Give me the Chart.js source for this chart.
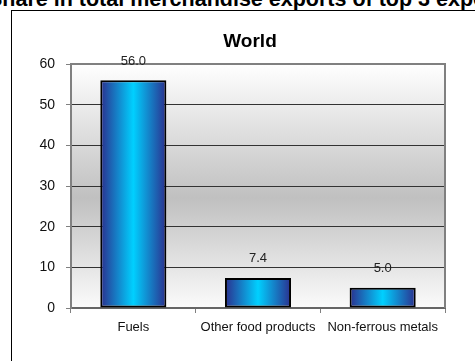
<!DOCTYPE html>
<html>
<head>
<meta charset="utf-8">
<script src="https://cdn.jsdelivr.net/npm/chart.js@4/dist/chart.umd.min.js"></script>
<style>
  html, body { margin: 0; padding: 0; background: #fff; overflow: hidden; }
  #page { position: relative; width: 475px; height: 361px; overflow: hidden; }
  #heading { position: absolute; left: -12px; top: -11px; white-space: nowrap;
    font: bold 21.5px Arial, "Liberation Sans", sans-serif; line-height: 21px; color: #000; }
  #box { position: absolute; left: 11px; top: 10px; width: 480px; height: 400px;
    border-left: 1px solid #000; border-top: 1px solid #000; }
  #c { position: absolute; left: 0; top: 0; }
</style>
</head>
<body>
<div id="page">
  <div id="heading">Share in total merchandise exports of top 3 exports</div>
  <div id="box"></div>
  <canvas id="c" width="475" height="361"></canvas>
</div>
<script>
const chartTitle = "World";
const categories = ["Fuels", "Other food products", "Non-ferrous metals"];
const shares = [56.0, 7.4, 5.0];
const yTicks = [0, 10, 20, 30, 40, 50, 60];

const FONT = 'Arial, "Liberation Sans", sans-serif';

const plotBg = {
  id: 'plotBg',
  beforeDraw(chart) {
    const {ctx, chartArea: a} = chart;
    const g = ctx.createLinearGradient(0, a.top, 0, a.bottom);
    g.addColorStop(0, '#ffffff');
    g.addColorStop(0.55, '#c0c0c0');
    g.addColorStop(1, '#fbfbfb');
    ctx.save();
    ctx.fillStyle = g;
    ctx.fillRect(a.left, a.top, a.right - a.left, a.bottom - a.top);
    ctx.font = 'bold 19px ' + FONT;
    ctx.fillStyle = '#000';
    ctx.textAlign = 'center';
    ctx.textBaseline = 'middle';
    ctx.fillText(chartTitle, 250, 42);
    ctx.restore();
  },
  beforeDatasetsDraw(chart) {
    const {ctx} = chart;
    const meta = chart.getDatasetMeta(0);
    meta.data.forEach(el => {
      const x0 = el.x - el.width / 2, x1 = el.x + el.width / 2;
      const g = ctx.createLinearGradient(x0, 0, x1, 0);
      g.addColorStop(0, '#2b2f8e');
      g.addColorStop(0.5, '#00d0ff');
      g.addColorStop(1, '#2b2f8e');
      el.options = Object.assign({}, el.options, { backgroundColor: g });
    });
  },
  afterDraw(chart) {
    const {ctx, chartArea: a} = chart;
    ctx.save();
    ctx.strokeStyle = '#808080';
    ctx.lineWidth = 2;
    ctx.beginPath();
    ctx.moveTo(a.left, a.top);
    ctx.lineTo(a.right, a.top);
    ctx.lineTo(a.right, a.bottom);
    ctx.stroke();
    const meta = chart.getDatasetMeta(0);
    ctx.font = '13px ' + FONT;
    ctx.fillStyle = '#222';
    ctx.textAlign = 'center';
    ctx.textBaseline = 'middle';
    meta.data.forEach((el, i) => {
      ctx.fillText(shares[i].toFixed(1), el.x, el.y - 19);
    });
    ctx.restore();
  }
};

new Chart(document.getElementById('c'), {
  type: 'bar',
  data: {
    labels: categories,
    datasets: [{
      data: shares,
      backgroundColor: () => '#00ccff',
      borderColor: '#000',
      borderWidth: 2,
      borderSkipped: false,
      categoryPercentage: 1,
      barPercentage: 0.53
    }]
  },
  options: {
    responsive: false,
    animation: false,
    devicePixelRatio: 1,
    layout: { padding: { left: 0, right: 30, top: 64, bottom: 0 } },
    plugins: {
      legend: { display: false },
      tooltip: { enabled: false },
      title: { display: false }
    },
    scales: {
      x: {
        grid: { display: true, offset: true, drawOnChartArea: false, tickLength: 5, color: '#808080' },
        border: { display: true, color: '#666', width: 2 },
        ticks: { color: '#111', font: { family: FONT, size: 13 }, padding: 7, maxRotation: 0, autoSkip: false },
        afterFit(s) { s.height = 53; }
      },
      y: {
        min: yTicks[0], max: yTicks[yTicks.length - 1],
        grid: {
          color: ctx => (ctx.tick && (ctx.tick.value === 60 || ctx.tick.value === 0)) ? 'rgba(0,0,0,0)' : '#333',
          tickColor: '#808080',
          tickLength: 5,
          lineWidth: 1
        },
        border: { display: true, color: '#808080', width: 2 },
        ticks: {
          stepSize: yTicks[1] - yTicks[0],
          color: '#111',
          font: { family: FONT, size: 14 },
          padding: 11,
          callback: (v) => String(v)
        },
        afterFit(s) { s.width = 71; }
      }
    }
  },
  plugins: [plotBg]
});
</script>
</body>
</html>
